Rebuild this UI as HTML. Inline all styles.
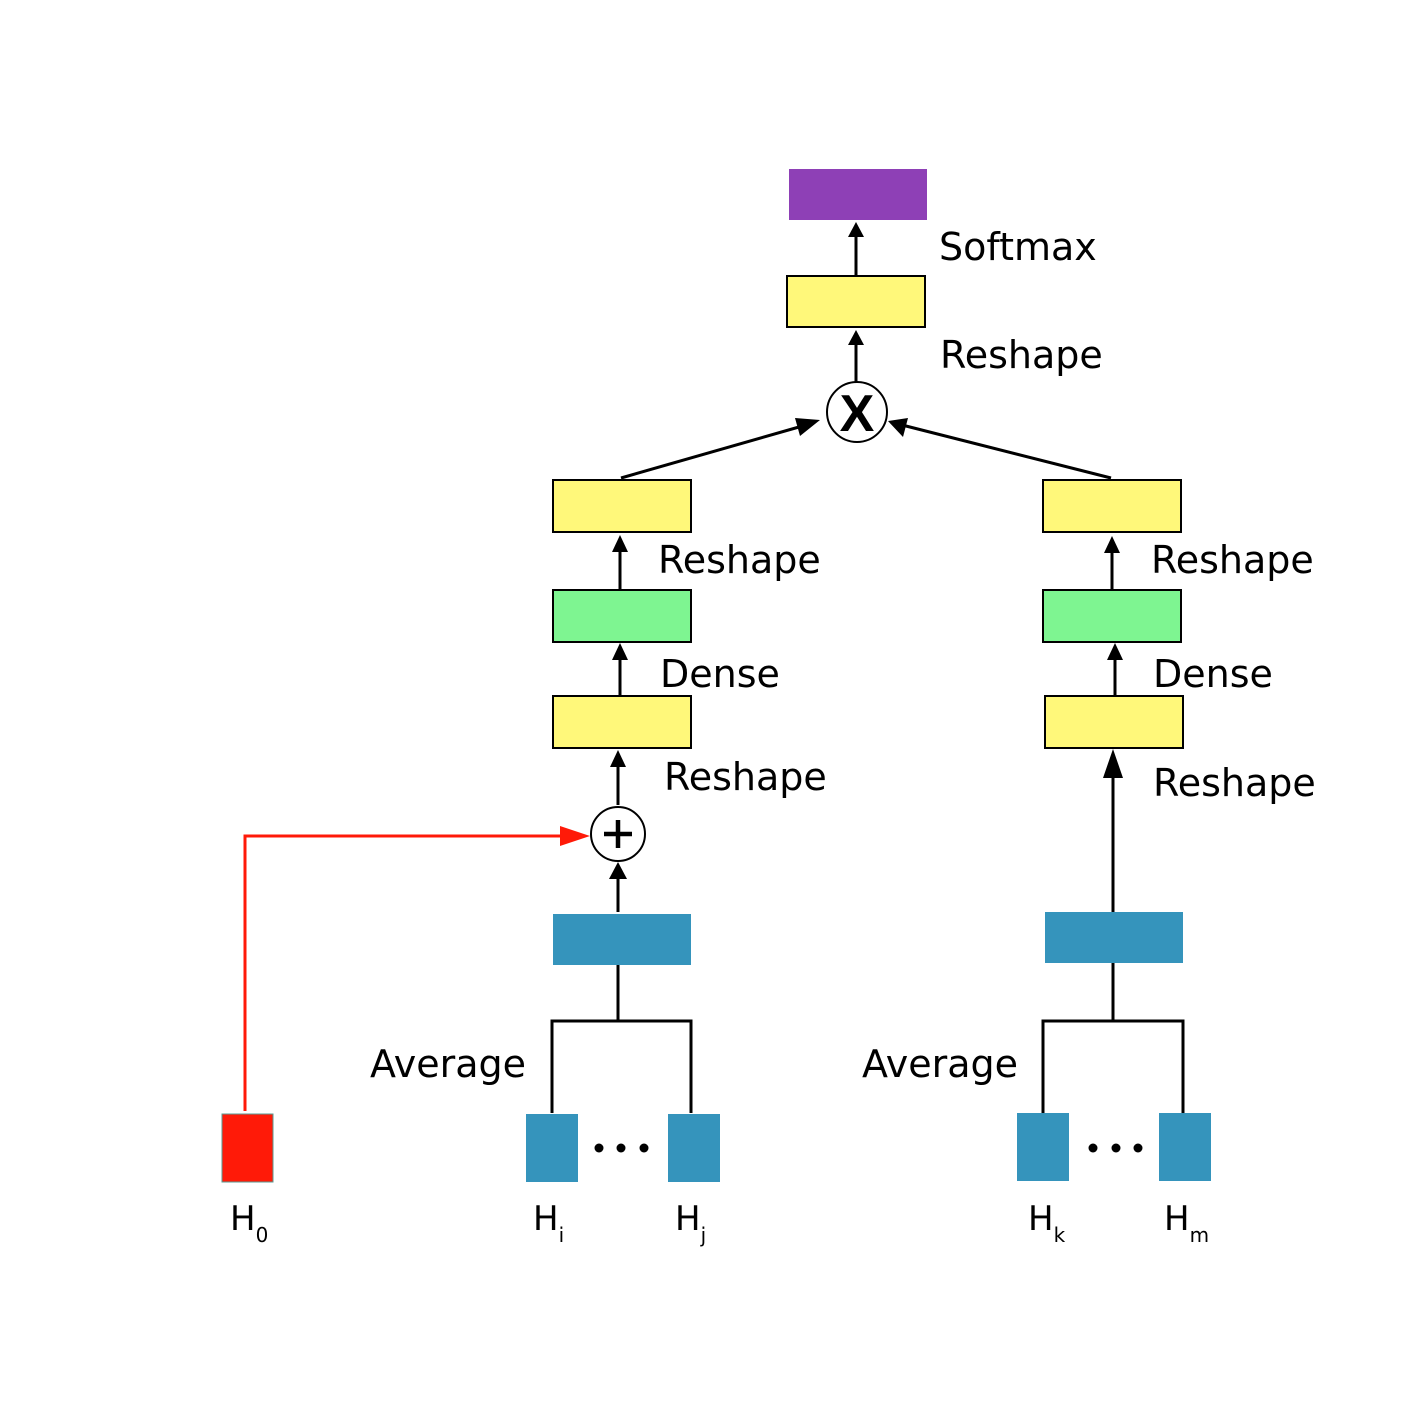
<!DOCTYPE html>
<html><head><meta charset="utf-8"><style>html,body{margin:0;padding:0;background:#fff}svg{display:block}</style></head>
<body>
<svg width="1417" height="1417" viewBox="0 0 1417 1417" xmlns="http://www.w3.org/2000/svg" font-family="'DejaVu Sans','Liberation Sans',sans-serif">
<g stroke="#000" stroke-width="2">
<rect x="789" y="169" width="138" height="51" fill="#8e40b6" stroke="none"/>
<rect x="787" y="276" width="138" height="51" fill="#fff87a"/>
<rect x="553" y="480" width="138" height="52" fill="#fff87a"/>
<rect x="553" y="590" width="138" height="52" fill="#7ef591"/>
<rect x="553" y="696" width="138" height="52" fill="#fff87a"/>
<rect x="553" y="914" width="138" height="51" fill="#3594bc" stroke="none"/>
<rect x="1043" y="480" width="138" height="52" fill="#fff87a"/>
<rect x="1043" y="590" width="138" height="52" fill="#7ef591"/>
<rect x="1045" y="696" width="138" height="52" fill="#fff87a"/>
<rect x="1045" y="912" width="138" height="51" fill="#3594bc" stroke="none"/>
<rect x="222" y="1114" width="51" height="68" fill="#ff1a08" stroke="#5a9a90" stroke-width="1"/>
<rect x="526" y="1114" width="52" height="68" fill="#3594bc" stroke="none"/>
<rect x="668" y="1114" width="52" height="68" fill="#3594bc" stroke="none"/>
<rect x="1017" y="1113" width="52" height="68" fill="#3594bc" stroke="none"/>
<rect x="1159" y="1113" width="52" height="68" fill="#3594bc" stroke="none"/>
<circle cx="857" cy="412" r="30" fill="#fff"/>
<circle cx="618" cy="834" r="27" fill="#fff"/>
</g>
<g stroke="#000" stroke-width="3" fill="none">
<line x1="856" y1="276" x2="856" y2="236"/><path d="M848,237 L856,222 L864,237 z" fill="#000" stroke="none"/>
<line x1="856" y1="382" x2="856" y2="344"/><path d="M848,345 L856,330 L864,345 z" fill="#000" stroke="none"/>
<line x1="621" y1="478" x2="806" y2="425"/><path d="M820,420 L800,436 L795,418 z" fill="#000" stroke="none"/>
<line x1="1111" y1="478" x2="902" y2="425"/><path d="M888,421 L908,418 L903,437 z" fill="#000" stroke="none"/>
<line x1="620" y1="590" x2="620" y2="550"/><path d="M612,552 L620,535 L628,552 z" fill="#000" stroke="none"/>
<line x1="620" y1="696" x2="620" y2="658"/><path d="M612,660 L620,643 L628,660 z" fill="#000" stroke="none"/>
<line x1="618" y1="805" x2="618" y2="766"/><path d="M610,767 L618,750 L626,767 z" fill="#000" stroke="none"/>
<line x1="618" y1="912" x2="618" y2="876"/><path d="M609,879 L618,862 L627,879 z" fill="#000" stroke="none"/>
<line x1="1112" y1="590" x2="1112" y2="552"/><path d="M1104,553 L1112,536 L1120,553 z" fill="#000" stroke="none"/>
<line x1="1115" y1="696" x2="1115" y2="658"/><path d="M1107,660 L1115,643 L1123,660 z" fill="#000" stroke="none"/>
<line x1="1113" y1="912" x2="1113" y2="775"/><path d="M1103,778 L1113,749 L1123,778 z" fill="#000" stroke="none"/>
<path d="M618,965 V1021 M552,1113 V1021 H691 V1113"/>
<path d="M1113,963 V1021 M1043,1113 V1021 H1183 V1113"/>
</g>
<path d="M245,1111 V836 H565" stroke="#ff1a08" stroke-width="3" fill="none"/>
<path d="M560,826 L590,836 L560,846 z" fill="#ff1a08"/>
<g fill="#000">
<circle cx="599" cy="1148" r="4.5"/><circle cx="621" cy="1148" r="4.5"/><circle cx="644" cy="1148" r="4.5"/>
<circle cx="1093" cy="1148" r="4.5"/><circle cx="1116" cy="1148" r="4.5"/><circle cx="1138" cy="1148" r="4.5"/>
</g>
<text x="857" y="431" font-size="52" font-weight="bold" text-anchor="middle" font-family="'Liberation Sans',sans-serif">X</text>
<path d="M604,834 H632 M618,820 V848" stroke="#000" stroke-width="4.5"/>
<g font-size="38" fill="#000">
<text x="939" y="260">Softmax</text>
<text x="940" y="368">Reshape</text>
<text x="658" y="573">Reshape</text>
<text x="660" y="687">Dense</text>
<text x="664" y="790">Reshape</text>
<text x="1151" y="573">Reshape</text>
<text x="1153" y="687">Dense</text>
<text x="1153" y="796">Reshape</text>
<text x="370" y="1077">Average</text>
<text x="862" y="1077">Average</text>
</g>
<g font-size="34" fill="#000">
<text x="230" y="1230">H<tspan font-size="20" dy="12">0</tspan></text>
<text x="533" y="1230">H<tspan font-size="20" dy="12">i</tspan></text>
<text x="675" y="1230">H<tspan font-size="20" dy="12">j</tspan></text>
<text x="1028" y="1230">H<tspan font-size="20" dy="12">k</tspan></text>
<text x="1164" y="1230">H<tspan font-size="20" dy="12">m</tspan></text>
</g>
</svg>
</body></html>
